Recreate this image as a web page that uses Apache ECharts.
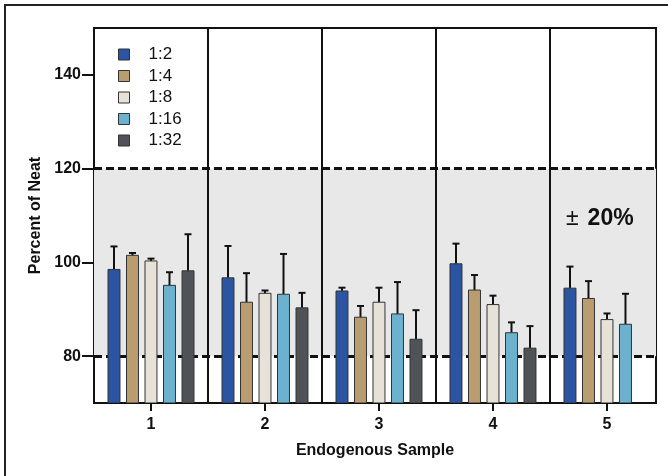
<!DOCTYPE html>
<html>
<head>
<meta charset="utf-8">
<script src="https://cdn.jsdelivr.net/npm/echarts@6/dist/echarts.min.js"></script>
<style>html,body{margin:0;padding:0;background:#fff}#c{width:668px;height:476px}</style>
</head>
<body>
<div id="c"></div>
<script>
const categories = [1, 2, 3, 4, 5];
const seriesNames = ['1:2', '1:4', '1:8', '1:16', '1:32'];
const val_1_2  = [98.5, 96.7, 93.9, 99.7, 94.5];
const err_1_2  = [4.9, 6.8, 0.7, 4.3, 4.6];
const val_1_4  = [101.5, 91.5, 88.3, 94.1, 92.3];
const err_1_4  = [0.5, 6.2, 2.4, 3.2, 3.7];
const val_1_8  = [100.3, 93.4, 91.5, 91.0, 87.8];
const err_1_8  = [0.5, 0.6, 3.1, 1.9, 1.3];
const val_1_16 = [95.1, 93.2, 89.0, 85.0, 86.8];
const err_1_16 = [2.8, 8.6, 6.8, 2.2, 6.5];
const val_1_32 = [98.2, 90.3, 83.6, 81.7, null];
const err_1_32 = [7.8, 3.2, 6.2, 4.7, null];
const yTicks = [80, 100, 120, 140];
const bandLow = 80, bandHigh = 120;
const separators = [1.5, 2.5, 3.5, 4.5];

const values = [val_1_2, val_1_4, val_1_8, val_1_16, val_1_32];
const errors = [err_1_2, err_1_4, err_1_8, err_1_16, err_1_32];
const colors = ['#2b54a3', '#b99d70', '#e6e2d8', '#6cb2cf', '#4f5357'];
const Y_MIN = 70, Y_MAX = 150;
const FONT = '"Liberation Sans", Arial, sans-serif';

const chart = echarts.init(document.getElementById('c'));

const barSeries = seriesNames.map((name, si) => ({
  name: name,
  type: 'custom',
  z: 5,
  clip: true,
  itemStyle: { color: colors[si], borderColor: '#333', borderWidth: 1 },
  encode: { x: 0, y: 1 },
  data: categories.map((c, i) => values[si][i] == null ? null : [c, values[si][i], errors[si][i]]).filter(d => d),
  renderItem: function (params, api) {
    const x = api.value(0), v = api.value(1), e = api.value(2);
    const unit = api.size([1, 0])[0];
    const off = (si - 2) * 0.1623 * unit;
    const bw = 0.105 * unit;
    const top = api.coord([x, v]);
    const base = api.coord([x, Y_MIN]);
    const eTop = api.coord([x, v + e]);
    const cx = top[0] + off;
    return {
      type: 'group',
      children: [
        { type: 'line', shape: { x1: cx, y1: top[1], x2: cx, y2: eTop[1] }, style: { stroke: '#111', lineWidth: 2 } },
        { type: 'line', shape: { x1: cx - 3.5, y1: eTop[1], x2: cx + 3.5, y2: eTop[1] }, style: { stroke: '#111', lineWidth: 2 } },
        { type: 'rect', shape: { x: cx - bw / 2, y: top[1], width: bw, height: base[1] - top[1] },
          style: { fill: colors[si], stroke: '#333', lineWidth: 1 } }
      ]
    };
  }
}));

const helper = {
  name: 'helper',
  type: 'line',
  z: 1,
  data: [],
  silent: true,
  markArea: {
    silent: true,
    itemStyle: { color: '#e8e8e8' },
    data: [[{ yAxis: bandLow }, { yAxis: bandHigh }]]
  },
  markLine: {
    silent: true,
    symbol: 'none',
    label: { show: false },
    animation: false,
    data: [
      { yAxis: bandLow, lineStyle: { color: '#111', width: 3, type: [8, 4] } },
      { yAxis: bandHigh, lineStyle: { color: '#111', width: 3, type: [8, 4] } }
    ].concat(separators.map(s => ({ xAxis: s, lineStyle: { color: '#111', width: 2, type: 'solid' } })))
  }
};

chart.setOption({
  animation: false,
  backgroundColor: '#fff',
  textStyle: { fontFamily: FONT },
  grid: { left: 94, top: 28, width: 562, height: 375, show: true, borderColor: '#111', borderWidth: 2, backgroundColor: '#fff' },
  legend: {
    data: seriesNames,
    orient: 'vertical',
    left: 118, top: 46,
    padding: 0,
    itemWidth: 11, itemHeight: 11, itemGap: 4.5,
    icon: 'rect',
    itemStyle: { borderColor: '#333', borderWidth: 1 },
    textStyle: { fontSize: 17, color: '#111', fontFamily: FONT, padding: [0, 0, 0, 14] }
  },
  xAxis: {
    type: 'value', min: 0.5, max: 5.43,
    name: 'Endogenous Sample', nameLocation: 'middle', nameGap: 40,
    nameTextStyle: { fontSize: 16, fontWeight: 'bold', color: '#111', fontFamily: FONT },
    axisLine: { show: true, lineStyle: { color: '#111', width: 2 } },
    axisTick: { show: true, customValues: categories, length: 8, lineStyle: { color: '#111', width: 2 } },
    axisLabel: { customValues: categories, fontSize: 16, fontWeight: 'bold', color: '#111', margin: 14, fontFamily: FONT },
    splitLine: { show: false }
  },
  yAxis: {
    type: 'value', min: Y_MIN, max: Y_MAX, interval: 10,
    name: 'Percent of Neat', nameLocation: 'middle', nameGap: 43,
    nameTextStyle: { fontSize: 16, fontWeight: 'bold', color: '#111', fontFamily: FONT },
    axisLine: { show: true, lineStyle: { color: '#111', width: 2 } },
    axisTick: { show: true, customValues: yTicks, length: 12, lineStyle: { color: '#111', width: 2 } },
    axisLabel: { customValues: yTicks, fontSize: 16, fontWeight: 'bold', color: '#111', margin: 13, fontFamily: FONT },
    splitLine: { show: false }
  },
  graphic: [
    { type: 'rect', z: -10, silent: true, shape: { x: 5, y: 5, width: 700, height: 500 }, style: { fill: 'none', stroke: '#222', lineWidth: 2 } },
    { type: 'text', z: 100, left: 566, top: 207, style: {
      text: '{a|±}{b|20%}', fontFamily: FONT,
      rich: { a: { fontSize: 23, fill: '#111', fontFamily: FONT, padding: [0, 9, 0, 0] }, b: { fontSize: 23, fontWeight: 'bold', fill: '#111', fontFamily: FONT } }
    } }
  ],
  series: [helper].concat(barSeries)
});
</script>
</body>
</html>
